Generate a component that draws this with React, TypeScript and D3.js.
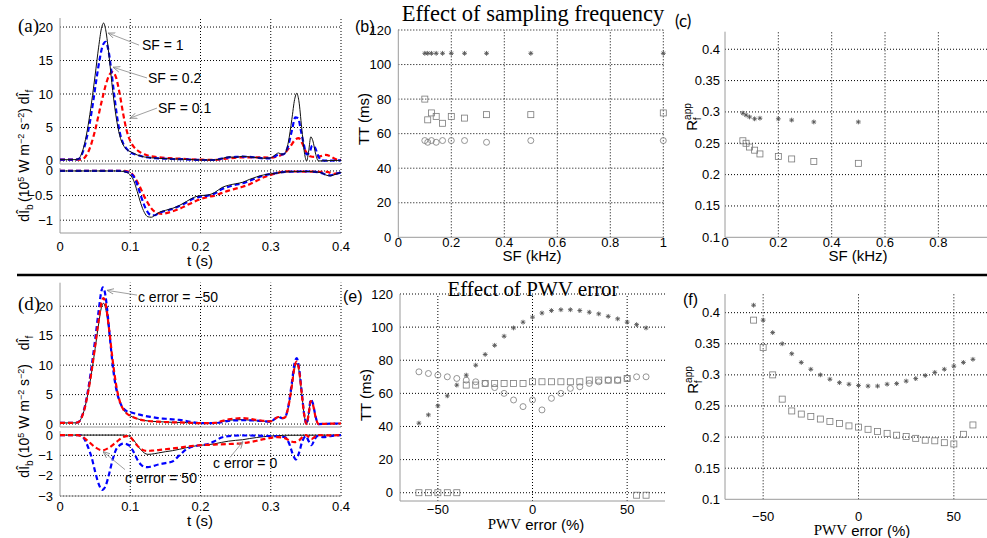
import React from "react";
import * as d3 from "d3";

type P = [number, number];

// ---------------- DATA ----------------
// (a) forward wave intensity, sampling frequency SF = 1, 0.2, 0.1 kHz
const aFwdSF1: P[] = [[0,0.2],[0.02,0.2],[0.026,0.3],[0.03,0.9],[0.035,2.6],[0.04,5.3],[0.045,8.8],[0.05,12.8],[0.055,17],[0.059,19.8],[0.062,20.6],[0.065,19.6],[0.07,15.5],[0.075,10.5],[0.08,6.5],[0.085,3.8],[0.09,2.4],[0.095,1.7],[0.1,1.4],[0.11,0.9],[0.12,0.6],[0.14,0.4],[0.16,0.3],[0.18,0.25],[0.2,0.15],[0.22,0.15],[0.23,0.35],[0.24,0.6],[0.25,0.55],[0.26,0.7],[0.27,0.6],[0.28,0.5],[0.29,0.4],[0.3,0.45],[0.306,0.9],[0.311,1.2],[0.316,1.0],[0.32,1.1],[0.325,2.8],[0.33,6.2],[0.334,9.2],[0.337,10.1],[0.34,9.0],[0.344,5],[0.348,1.2],[0.351,0],[0.354,1.5],[0.357,3.6],[0.36,3.0],[0.364,1.0],[0.368,0],[0.38,0.05],[0.4,0.1]];
const aFwdSF02: P[] = [[0,0.2],[0.022,0.2],[0.028,0.4],[0.032,1.2],[0.037,3],[0.042,5.5],[0.047,8.7],[0.052,12.3],[0.057,15.5],[0.061,17.3],[0.065,17.8],[0.069,16.5],[0.073,13.5],[0.077,10],[0.081,6.8],[0.085,4.3],[0.09,2.6],[0.095,1.8],[0.1,1.3],[0.11,0.9],[0.12,0.6],[0.14,0.4],[0.16,0.3],[0.18,0.25],[0.2,0.15],[0.22,0.15],[0.23,0.35],[0.24,0.55],[0.25,0.6],[0.26,0.65],[0.27,0.6],[0.28,0.5],[0.29,0.4],[0.3,0.4],[0.306,0.7],[0.312,1.0],[0.318,1.0],[0.324,2.0],[0.33,4.5],[0.335,6.5],[0.339,6.4],[0.343,4.5],[0.347,2.5],[0.351,1.0],[0.355,1.2],[0.359,2.3],[0.363,2.0],[0.367,0.9],[0.372,0.1],[0.38,0.05],[0.4,0.1]];
const aFwdSF01: P[] = [[0,0.2],[0.03,0.2],[0.035,0.5],[0.04,1.3],[0.045,2.7],[0.05,4.6],[0.055,6.9],[0.06,9.2],[0.065,11.3],[0.07,12.8],[0.075,13.3],[0.08,12.4],[0.085,10.0],[0.09,7.0],[0.095,4.5],[0.1,3.0],[0.105,2.1],[0.11,1.6],[0.12,1.0],[0.13,0.7],[0.14,0.55],[0.16,0.4],[0.18,0.3],[0.2,0.2],[0.22,0.15],[0.24,0.4],[0.26,0.55],[0.28,0.55],[0.3,0.5],[0.31,0.7],[0.32,1.2],[0.328,2.2],[0.335,3.2],[0.34,3.4],[0.345,2.6],[0.35,1.4],[0.356,0.7],[0.362,0.6],[0.37,0.7],[0.378,0.9],[0.385,0.7],[0.392,0.3],[0.4,0.15]];
// (a) backward wave intensity
const aBwdSF1: P[] = [[0,0],[0.08,0],[0.09,-0.01],[0.095,-0.03],[0.1,-0.08],[0.105,-0.2],[0.11,-0.42],[0.115,-0.66],[0.12,-0.84],[0.125,-0.93],[0.13,-0.94],[0.135,-0.9],[0.14,-0.85],[0.15,-0.8],[0.16,-0.76],[0.17,-0.7],[0.18,-0.62],[0.19,-0.54],[0.2,-0.5],[0.21,-0.49],[0.22,-0.44],[0.23,-0.34],[0.24,-0.29],[0.25,-0.26],[0.26,-0.23],[0.27,-0.17],[0.28,-0.12],[0.29,-0.08],[0.3,-0.06],[0.31,-0.04],[0.32,-0.02],[0.35,-0.01],[0.37,-0.03],[0.38,-0.09],[0.385,-0.1],[0.39,-0.08],[0.4,-0.03]];
const aBwdSF02: P[] = [[0,0],[0.085,0],[0.095,-0.02],[0.1,-0.05],[0.105,-0.12],[0.11,-0.28],[0.115,-0.5],[0.12,-0.7],[0.125,-0.84],[0.13,-0.9],[0.135,-0.9],[0.14,-0.86],[0.15,-0.81],[0.16,-0.77],[0.17,-0.71],[0.18,-0.64],[0.19,-0.56],[0.2,-0.52],[0.21,-0.5],[0.22,-0.46],[0.23,-0.37],[0.24,-0.32],[0.25,-0.28],[0.26,-0.25],[0.27,-0.2],[0.28,-0.14],[0.29,-0.09],[0.3,-0.06],[0.31,-0.04],[0.32,-0.02],[0.35,-0.01],[0.37,-0.03],[0.38,-0.08],[0.385,-0.09],[0.39,-0.07],[0.4,-0.03]];
const aBwdSF01: P[] = [[0,0],[0.09,0],[0.1,-0.03],[0.105,-0.1],[0.11,-0.22],[0.115,-0.36],[0.12,-0.52],[0.125,-0.65],[0.13,-0.76],[0.135,-0.83],[0.14,-0.86],[0.145,-0.87],[0.15,-0.86],[0.16,-0.82],[0.17,-0.77],[0.18,-0.7],[0.19,-0.63],[0.2,-0.57],[0.21,-0.53],[0.22,-0.5],[0.23,-0.45],[0.24,-0.4],[0.25,-0.36],[0.26,-0.32],[0.27,-0.27],[0.28,-0.2],[0.29,-0.13],[0.3,-0.08],[0.31,-0.04],[0.32,-0.01],[0.38,-0.02],[0.39,-0.06],[0.4,-0.02]];

// (d) forward wave intensity, c error = 0, -50, 50 %
const dFwdErr0: P[] = [[0,0.2],[0.02,0.2],[0.026,0.3],[0.03,0.9],[0.035,2.6],[0.04,5.3],[0.045,8.8],[0.05,12.8],[0.055,17],[0.059,19.8],[0.062,20.5],[0.065,19.6],[0.07,15.5],[0.075,10.5],[0.08,6.5],[0.085,3.9],[0.09,2.5],[0.095,1.8],[0.1,1.4],[0.11,0.9],[0.12,0.6],[0.14,0.4],[0.16,0.3],[0.18,0.25],[0.2,0.15],[0.22,0.15],[0.23,0.4],[0.24,0.65],[0.26,0.75],[0.28,0.55],[0.3,0.45],[0.306,0.9],[0.311,1.2],[0.316,1.0],[0.32,1.1],[0.325,2.8],[0.33,6.3],[0.334,9.4],[0.337,10.3],[0.34,9.2],[0.344,5.2],[0.348,1.3],[0.351,0],[0.354,1.7],[0.357,3.9],[0.36,3.3],[0.364,1.1],[0.368,0],[0.38,0.05],[0.4,0.1]];
const dFwdErrM50: P[] = [[0,0.2],[0.02,0.2],[0.026,0.3],[0.03,1.0],[0.035,2.8],[0.04,5.8],[0.045,9.8],[0.05,14.3],[0.055,19.2],[0.059,22.6],[0.061,23.2],[0.064,22.3],[0.068,18.5],[0.072,13.5],[0.076,9],[0.08,6],[0.085,3.8],[0.09,2.7],[0.095,2.2],[0.1,2.0],[0.11,1.7],[0.12,1.4],[0.13,1.2],[0.14,1.0],[0.15,0.9],[0.16,0.8],[0.17,0.7],[0.18,0.5],[0.19,0.3],[0.2,0.15],[0.22,0.15],[0.23,0.3],[0.24,0.55],[0.26,0.65],[0.28,0.6],[0.3,0.4],[0.306,0.9],[0.311,1.2],[0.316,1.0],[0.32,1.1],[0.325,3.0],[0.33,7],[0.334,10.4],[0.337,11.2],[0.34,9.8],[0.344,5.5],[0.348,1.3],[0.351,0],[0.354,1.8],[0.357,4.2],[0.36,3.5],[0.364,1.2],[0.368,0],[0.38,0.05],[0.4,0.1]];
const dFwdErr50: P[] = [[0,0.2],[0.02,0.2],[0.026,0.3],[0.03,0.9],[0.035,2.6],[0.04,5.4],[0.045,9],[0.05,13.2],[0.055,17.6],[0.059,20.6],[0.062,21.4],[0.065,20.4],[0.07,16],[0.075,10.8],[0.08,6.6],[0.085,3.9],[0.09,2.5],[0.095,1.8],[0.1,1.4],[0.11,0.9],[0.12,0.6],[0.14,0.4],[0.16,0.3],[0.18,0.25],[0.2,0.15],[0.22,0.2],[0.23,0.5],[0.24,0.8],[0.26,1.0],[0.28,0.7],[0.3,0.45],[0.306,0.9],[0.311,1.2],[0.316,1.0],[0.32,1.1],[0.325,2.9],[0.33,6.5],[0.334,9.8],[0.337,10.6],[0.34,9.4],[0.344,5.3],[0.348,1.3],[0.351,0],[0.354,1.7],[0.357,3.9],[0.36,3.3],[0.364,1.1],[0.368,0],[0.38,0.05],[0.4,0.1]];
// (d) backward wave intensity
const dBwdErr0: P[] = [[0,0],[0.09,0],[0.095,-0.02],[0.1,-0.08],[0.105,-0.25],[0.11,-0.5],[0.115,-0.72],[0.12,-0.88],[0.125,-0.95],[0.13,-0.94],[0.14,-0.88],[0.15,-0.82],[0.16,-0.77],[0.17,-0.7],[0.18,-0.62],[0.19,-0.55],[0.2,-0.5],[0.21,-0.48],[0.22,-0.43],[0.23,-0.36],[0.24,-0.3],[0.25,-0.26],[0.26,-0.23],[0.27,-0.17],[0.28,-0.12],[0.29,-0.08],[0.3,-0.05],[0.31,-0.03],[0.32,-0.01],[0.4,0]];
const dBwdErrM50: P[] = [[0,0],[0.028,0],[0.033,-0.1],[0.04,-0.6],[0.045,-1.1],[0.05,-1.8],[0.055,-2.4],[0.06,-2.7],[0.065,-2.5],[0.07,-1.9],[0.075,-1.2],[0.08,-0.7],[0.085,-0.5],[0.09,-0.42],[0.095,-0.45],[0.1,-0.55],[0.105,-0.85],[0.11,-1.2],[0.115,-1.45],[0.12,-1.56],[0.125,-1.58],[0.13,-1.55],[0.14,-1.45],[0.15,-1.38],[0.16,-1.3],[0.17,-1.0],[0.18,-0.7],[0.19,-0.55],[0.2,-0.5],[0.21,-0.45],[0.22,-0.3],[0.23,-0.12],[0.24,-0.05],[0.26,-0.02],[0.3,-0.05],[0.32,-0.1],[0.326,-0.4],[0.332,-1.0],[0.336,-1.2],[0.34,-0.9],[0.345,-0.3],[0.35,-0.05],[0.354,-0.3],[0.358,-0.5],[0.362,-0.25],[0.366,-0.05],[0.375,-0.1],[0.385,-0.05],[0.4,0]];
const dBwdErr50: P[] = [[0,0],[0.025,0],[0.03,-0.05],[0.04,-0.3],[0.05,-0.6],[0.06,-0.75],[0.07,-0.62],[0.08,-0.35],[0.09,-0.1],[0.095,-0.05],[0.1,-0.1],[0.105,-0.3],[0.11,-0.52],[0.115,-0.68],[0.12,-0.76],[0.125,-0.78],[0.13,-0.77],[0.14,-0.74],[0.15,-0.7],[0.16,-0.66],[0.17,-0.62],[0.18,-0.57],[0.19,-0.53],[0.2,-0.5],[0.22,-0.47],[0.24,-0.44],[0.26,-0.4],[0.28,-0.28],[0.29,-0.2],[0.3,-0.14],[0.31,-0.1],[0.32,-0.15],[0.328,-0.3],[0.334,-0.35],[0.34,-0.28],[0.345,-0.1],[0.35,0],[0.355,-0.12],[0.358,-0.2],[0.362,-0.1],[0.368,0],[0.38,-0.02],[0.4,0]];

// (b) TT vs sampling frequency
const sfB = [0.1, 0.111, 0.125, 0.143, 0.167, 0.2, 0.25, 0.333, 0.5, 1];
const ttStarB = [106.5, 106.5, 106.5, 106.5, 106.5, 106.5, 106.5, 106.5, 106.5, 106.5];
const ttSquareB = [80, 68, 72, 70, 66, 70, 69, 71, 71, 72];
const ttCircleB = [56, 55, 56, 55, 56, 56, 56, 55, 56, 56];

// (c) Rf_app vs sampling frequency
const sfC = [0.067, 0.079, 0.092, 0.111, 0.131, 0.2, 0.25, 0.333, 0.5];
const rStarC = [0.298, 0.295, 0.292, 0.289, 0.29, 0.289, 0.287, 0.284, 0.284];
const rSquareC = [0.254, 0.25, 0.244, 0.239, 0.233, 0.229, 0.225, 0.221, 0.218];

// (e) TT vs PWV error
const pwvE = [-60, -55, -50, -45, -40, -35, -30, -25, -20, -15, -10, -5, 0, 5, 10, 15, 20, 25, 30, 35, 40, 45, 50, 55, 60];
const ttStarE = [42, 47, 52.5, 58.5, 65, 71, 77, 83.5, 89, 94.5, 99.5, 103, 106, 108.5, 110, 110.5, 110.5, 110, 109, 108, 106.5, 105, 103, 101.5, 99.5];
const ttCircleE = [73, 72, 71, 70, 69, 68, 67, 66, 63.5, 60, 56, 52, 56, 50, 57, 60, 63, 64, 66, 67, 68, 68, 69, 70, 70];
const ttSquareE = [0, 0, 0, 0, 0, 65, 65, 66, 66, 66, 66, 66, 67, 67, 67, 67, 67, 67, 68, 68, 68, 68, 69, -1.5, -1.5];

// (f) Rf_app vs PWV error
const pwvF = [-55, -50, -45, -40, -35, -30, -25, -20, -15, -10, -5, 0, 5, 10, 15, 20, 25, 30, 35, 40, 45, 50, 55, 60];
const rStarF = [0.412, 0.388, 0.368, 0.35, 0.334, 0.32, 0.309, 0.3, 0.293, 0.2875, 0.285, 0.283, 0.282, 0.282, 0.285, 0.286, 0.29, 0.294, 0.299, 0.304, 0.309, 0.314, 0.32, 0.325];
const rSquareF = [0.388, 0.344, 0.3, 0.261, 0.242, 0.237, 0.233, 0.229, 0.225, 0.222, 0.218, 0.216, 0.2125, 0.209, 0.206, 0.203, 0.201, 0.198, 0.195, 0.194, 0.191, 0.189, 0.2045, 0.2195];

// tick values
const tTicks = [0, 0.1, 0.2, 0.3, 0.4];
const fwdTicksA = [0, 5, 10, 15, 20];
const bwdTicksA = [-1, -0.5, 0];
const fwdTicksD = [0, 5, 10, 15, 20];
const bwdTicksD = [-3, -2, -1, 0];
const sfTicks = [0, 0.2, 0.4, 0.6, 0.8, 1];
const ttTicks = [0, 20, 40, 60, 80, 100, 120];
const rTicks = [0.1, 0.15, 0.2, 0.25, 0.3, 0.35, 0.4];
const pwvTicks = [-50, 0, 50];

// ---------------- STYLE ----------------
const SANS = "'Liberation Sans', Arial, Helvetica, sans-serif";
const SERIF = "'Liberation Serif', 'Times New Roman', serif";
const AXC = "#9a9a9a";
const MK = "#7a7a7a";
const TICK_FS = 13;
const LAB_FS = 15;

const fmt = (v: number) => (v < 0 ? "\u2212" : "") + String(Math.abs(Math.round(v * 1000) / 1000));

type Sc = d3.ScaleLinear<number, number>;

function Frame(props: {
  x: Sc; y: Sc; xGrid: number[]; yGrid: number[];
  yTicks: number[]; xTicks?: number[]; xTickY?: number; yTickGap?: number;
}) {
  const { x, y, xGrid, yGrid, yTicks, xTicks, xTickY, yTickGap = 7 } = props;
  const [x0, x1] = x.range();
  const [yb, yt] = y.range();
  return (
    <g>
      {xGrid.map((v) => (
        <line key={"gx" + v} x1={x(v)} x2={x(v)} y1={yb} y2={yt} stroke="#000" strokeWidth={1} strokeDasharray="1 2" />
      ))}
      {yGrid.map((v) => (
        <line key={"gy" + v} x1={x0} x2={x1} y1={y(v)} y2={y(v)} stroke="#000" strokeWidth={1} strokeDasharray="1 2" />
      ))}
      <line x1={x0} x2={x0} y1={yb} y2={yt} stroke={AXC} strokeWidth={1} />
      <line x1={x0} x2={x1} y1={yb} y2={yb} stroke={AXC} strokeWidth={1} />
      {yTicks.map((v) => (
        <text key={"ty" + v} x={x0 - yTickGap} y={y(v)} textAnchor="end" dominantBaseline="central" fontFamily={SANS} fontSize={TICK_FS}>{fmt(v)}</text>
      ))}
      {xTicks && xTicks.map((v) => (
        <text key={"tx" + v} x={x(v)} y={xTickY} textAnchor="middle" dominantBaseline="central" fontFamily={SANS} fontSize={TICK_FS}>{fmt(v)}</text>
      ))}
    </g>
  );
}

function Curve({ data, x, y, kind }: { data: P[]; x: Sc; y: Sc; kind: "k" | "b" | "r" }) {
  const gen = d3.line<P>().x((d) => x(d[0])).y((d) => y(d[1])).curve(d3.curveMonotoneX);
  const col = kind === "k" ? "#111" : kind === "b" ? "#0000ff" : "#ff0000";
  return (
    <path d={gen(data) || ""} fill="none" stroke={col} strokeWidth={kind === "k" ? 1 : 2.2}
      strokeDasharray={kind === "k" ? undefined : "5 3"} strokeLinejoin="round" />
  );
}

function Marks({ xs, ys, x, y, shape }: { xs: number[]; ys: number[]; x: Sc; y: Sc; shape: "star" | "sq" | "ci" }) {
  return (
    <g>
      {xs.map((xv, i) => {
        const cx = x(xv), cy = y(ys[i]);
        if (shape === "ci") return <circle key={i} cx={cx} cy={cy} r={3} fill="none" stroke={MK} strokeWidth={0.8} />;
        if (shape === "sq") return <rect key={i} x={cx - 3} y={cy - 3} width={6} height={6} fill="none" stroke={MK} strokeWidth={0.8} />;
        return (
          <path key={i} transform={`translate(${cx},${cy})`}
            d="M-2.4,0H2.4M0,-2.4V2.4M-1.7,-1.7L1.7,1.7M-1.7,1.7L1.7,-1.7" stroke="#555" strokeWidth={0.9} fill="none" />
        );
      })}
    </g>
  );
}

function Arrow({ x1, y1, x2, y2 }: { x1: number; y1: number; x2: number; y2: number }) {
  return <line x1={x1} y1={y1} x2={x2} y2={y2} stroke="#888" strokeWidth={0.8} markerEnd="url(#ah)" />;
}

function WiLabel({ x, yMid, yF, yB }: { x: number; yMid: number; yF: number; yB: number }) {
  return (
    <g fontFamily={SANS} fontSize={14}>
      <text transform={`translate(${x},${yMid}) rotate(-90)`} textAnchor="middle">
        (10<tspan dy={-5} fontSize={9}>5</tspan><tspan dy={5}> W m</tspan><tspan dy={-5} fontSize={9}>{"\u22122"}</tspan><tspan dy={5}> s</tspan><tspan dy={-5} fontSize={9}>{"\u22122"}</tspan><tspan dy={5}>)</tspan>
      </text>
      <text transform={`translate(${x},${yF}) rotate(-90)`} textAnchor="middle">
        d{"\u00CE"}<tspan dy={4} fontSize={10}>f</tspan>
      </text>
      <text transform={`translate(${x},${yB}) rotate(-90)`} textAnchor="middle">
        d{"\u00CE"}<tspan dy={4} fontSize={10}>b</tspan>
      </text>
    </g>
  );
}

function RLabel({ x, y }: { x: number; y: number }) {
  return (
    <text transform={`translate(${x},${y}) rotate(-90)`} textAnchor="middle" fontFamily={SANS} fontSize={15}>
      R<tspan dy={-6} fontSize={10}>app</tspan><tspan dx={-17} dy={10} fontSize={10}>f</tspan><tspan dx={10} dy={-4}>{""}</tspan>
    </text>
  );
}

function PwvLabel({ x, y }: { x: number; y: number }) {
  return (
    <text x={x} y={y} textAnchor="middle" dominantBaseline="central" fontSize={15}>
      <tspan fontFamily={SERIF}>PWV</tspan><tspan fontFamily={SANS}> error (%)</tspan>
    </text>
  );
}

export default function App() {
  // panel (a)
  const xA = d3.scaleLinear().domain([0, 0.4]).range([60, 341]);
  const yAf = d3.scaleLinear().domain([-0.45, 21.35]).range([164, 18]);
  const yAb = d3.scaleLinear().domain([-1.26, 0.06]).range([233, 168]);
  // panel (d)
  const xD = d3.scaleLinear().domain([0, 0.4]).range([60, 341]);
  const yDf = d3.scaleLinear().domain([-0.5, 24]).range([427, 282.7]);
  const yDb = d3.scaleLinear().domain([-3, 0.2]).range([496, 431]);
  // panel (b), (c)
  const xB = d3.scaleLinear().domain([0, 1]).range([398.3, 663.3]);
  const yB = d3.scaleLinear().domain([0, 120]).range([237.3, 30]);
  const xC = d3.scaleLinear().domain([0, 1]).range([725, 991.7]);
  const yC = d3.scaleLinear().domain([0.1, 0.428]).range([237.3, 31.7]);
  // panel (e), (f)
  const xE = d3.scaleLinear().domain([-70, 70]).range([400, 665]);
  const yE = d3.scaleLinear().domain([-5, 120]).range([501, 294]);
  const xF = d3.scaleLinear().domain([-70, 70]).range([725, 992]);
  const yF = d3.scaleLinear().domain([0.1, 0.43]).range([499.3, 294]);

  return (
    <svg width={987} height={538} viewBox="0 0 987 538"
      style={{ position: "absolute", left: 0, top: 0, background: "#fff", display: "block" }}>
      <defs>
        <marker id="ah" viewBox="0 0 10 10" refX={10} refY={5} markerWidth={7} markerHeight={7} orient="auto" markerUnits="userSpaceOnUse">
          <path d="M0,1 L10,5 L0,9" fill="none" stroke="#888" strokeWidth={1.2} />
        </marker>
      </defs>
      <rect x={0} y={0} width={987} height={538} fill="#fff" />

      {/* ---------- (a) ---------- */}
      <Frame x={xA} y={yAf} xGrid={[0.1, 0.2, 0.3, 0.4]} yGrid={fwdTicksA} yTicks={fwdTicksA} />
      <Frame x={xA} y={yAb} xGrid={[0.1, 0.2, 0.3, 0.4]} yGrid={bwdTicksA} yTicks={bwdTicksA}
        xTicks={tTicks} xTickY={246} />
      <Curve data={aFwdSF01} x={xA} y={yAf} kind="r" />
      <Curve data={aFwdSF02} x={xA} y={yAf} kind="b" />
      <Curve data={aFwdSF1} x={xA} y={yAf} kind="k" />
      <Curve data={aBwdSF01} x={xA} y={yAb} kind="r" />
      <Curve data={aBwdSF02} x={xA} y={yAb} kind="b" />
      <Curve data={aBwdSF1} x={xA} y={yAb} kind="k" />
      <text x={200} y={260} textAnchor="middle" dominantBaseline="central" fontFamily={SANS} fontSize={LAB_FS}>t (s)</text>
      <WiLabel x={29} yMid={155} yF={97} yB={213} />
      <text x={18} y={32} fontFamily={SERIF} fontSize={19}>(a)</text>
      <Arrow x1={xA(0.1125)} y1={yAf(17.3)} x2={xA(0.0683)} y2={yAf(19.1)} />
      <text x={xA(0.1167)} y={yAf(16.6)} fontFamily={SANS} fontSize={14}>SF = 1</text>
      <Arrow x1={xA(0.1238)} y1={yAf(12.4)} x2={xA(0.0754)} y2={yAf(14.0)} />
      <text x={xA(0.1253)} y={yAf(11.6)} fontFamily={SANS} fontSize={14}>SF = 0.2</text>
      <Arrow x1={xA(0.138)} y1={yAf(7.9)} x2={xA(0.0996)} y2={yAf(6.4)} />
      <text x={xA(0.1395)} y={yAf(7.2)} fontFamily={SANS} fontSize={14}>SF = 0.1</text>

      {/* ---------- (b) ---------- */}
      <Frame x={xB} y={yB} xGrid={[0.2, 0.4, 0.6, 0.8, 1]} yGrid={ttTicks.filter((v) => v > 0)} yTicks={ttTicks}
        xTicks={sfTicks} xTickY={242} yTickGap={7} />
      <Marks xs={sfB} ys={ttCircleB} x={xB} y={yB} shape="ci" />
      <Marks xs={sfB} ys={ttSquareB} x={xB} y={yB} shape="sq" />
      <Marks xs={sfB} ys={ttStarB} x={xB} y={yB} shape="star" />
      <text x={532} y={255} textAnchor="middle" dominantBaseline="central" fontFamily={SANS} fontSize={LAB_FS}>SF (kHz)</text>
      <text transform="translate(369,119) rotate(-90)" textAnchor="middle" fontFamily={SANS} fontSize={LAB_FS}>TT (ms)</text>
      <text x={355} y={32} fontFamily={SANS} fontSize={16}>(b)</text>
      <text x={533} y={21} textAnchor="middle" fontFamily={SERIF} fontSize={22.5}>Effect of sampling frequency</text>

      {/* ---------- (c) ---------- */}
      <Frame x={xC} y={yC} xGrid={[0.2, 0.4, 0.6, 0.8, 1]} yGrid={rTicks.filter((v) => v > 0.1)} yTicks={rTicks}
        xTicks={sfTicks.filter((v) => v < 1)} xTickY={242} yTickGap={5} />
      <Marks xs={sfC} ys={rSquareC} x={xC} y={yC} shape="sq" />
      <Marks xs={sfC} ys={rStarC} x={xC} y={yC} shape="star" />
      <text x={858} y={255} textAnchor="middle" dominantBaseline="central" fontFamily={SANS} fontSize={LAB_FS}>SF (kHz)</text>
      <RLabel x={697} y={117} />
      <text x={675} y={27} fontFamily={"Lato, 'Open Sans', sans-serif"} fontSize={17}>(c)</text>

      {/* ---------- separator ---------- */}
      <line x1={17} x2={987} y1={275} y2={275} stroke="#000" strokeWidth={2.5} />

      {/* ---------- (d) ---------- */}
      <Frame x={xD} y={yDf} xGrid={[0.1, 0.2, 0.3, 0.4]} yGrid={fwdTicksD} yTicks={fwdTicksD} />
      <Frame x={xD} y={yDb} xGrid={[0.1, 0.2, 0.3, 0.4]} yGrid={bwdTicksD} yTicks={bwdTicksD}
        xTicks={tTicks} xTickY={506} />
      <Curve data={dFwdErr0} x={xD} y={yDf} kind="k" />
      <Curve data={dFwdErrM50} x={xD} y={yDf} kind="b" />
      <Curve data={dFwdErr50} x={xD} y={yDf} kind="r" />
      <Curve data={dBwdErr0} x={xD} y={yDb} kind="k" />
      <Curve data={dBwdErrM50} x={xD} y={yDb} kind="b" />
      <Curve data={dBwdErr50} x={xD} y={yDb} kind="r" />
      <text x={200} y={520} textAnchor="middle" dominantBaseline="central" fontFamily={SANS} fontSize={LAB_FS}>t (s)</text>
      <WiLabel x={29} yMid={411} yF={343} yB={469} />
      <text x={18} y={310} fontFamily={SERIF} fontSize={19}>(d)</text>
      <Arrow x1={xD(0.1096)} y1={yDf(21.9)} x2={xD(0.0669)} y2={yDf(22.7)} />
      <text x={xD(0.111)} y={yDf(20.7)} fontFamily={SANS} fontSize={14}>c error = {"\u221250"}</text>
      <Arrow x1={xD(0.0925)} y1={yDb(-1.7)} x2={xD(0.0612)} y2={yDb(-0.81)} />
      <text x={xD(0.0925)} y={yDb(-2.34)} fontFamily={SANS} fontSize={14}>c error = 50</text>
      <Arrow x1={xD(0.242)} y1={yDb(-1.1)} x2={xD(0.2605)} y2={yDb(-0.32)} />
      <text x={xD(0.2178)} y={yDb(-1.6)} fontFamily={SANS} fontSize={14}>c error = 0</text>

      {/* ---------- (e) ---------- */}
      <Frame x={xE} y={yE} xGrid={pwvTicks} yGrid={ttTicks} yTicks={ttTicks}
        xTicks={pwvTicks} xTickY={509} />
      <Marks xs={pwvE} ys={ttCircleE} x={xE} y={yE} shape="ci" />
      <Marks xs={pwvE} ys={ttSquareE} x={xE} y={yE} shape="sq" />
      <Marks xs={pwvE} ys={ttStarE} x={xE} y={yE} shape="star" />
      <PwvLabel x={536} y={524} />
      <text transform="translate(371,395) rotate(-90)" textAnchor="middle" fontFamily={SANS} fontSize={LAB_FS}>TT (ms)</text>
      <text x={343} y={302} fontFamily={SANS} fontSize={16}>(e)</text>
      <text x={533} y={296} textAnchor="middle" fontFamily={SERIF} fontSize={21}>Effect of PWV error</text>

      {/* ---------- (f) ---------- */}
      <Frame x={xF} y={yF} xGrid={pwvTicks} yGrid={rTicks.filter((v) => v > 0.1)} yTicks={rTicks}
        xTicks={pwvTicks} xTickY={516} yTickGap={5} />
      <Marks xs={pwvF} ys={rSquareF} x={xF} y={yF} shape="sq" />
      <Marks xs={pwvF} ys={rStarF} x={xF} y={yF} shape="star" />
      <PwvLabel x={862} y={530} />
      <RLabel x={698} y={380} />
      <text x={683} y={305} fontFamily={SANS} fontSize={16}>(f)</text>
    </svg>
  );
}
